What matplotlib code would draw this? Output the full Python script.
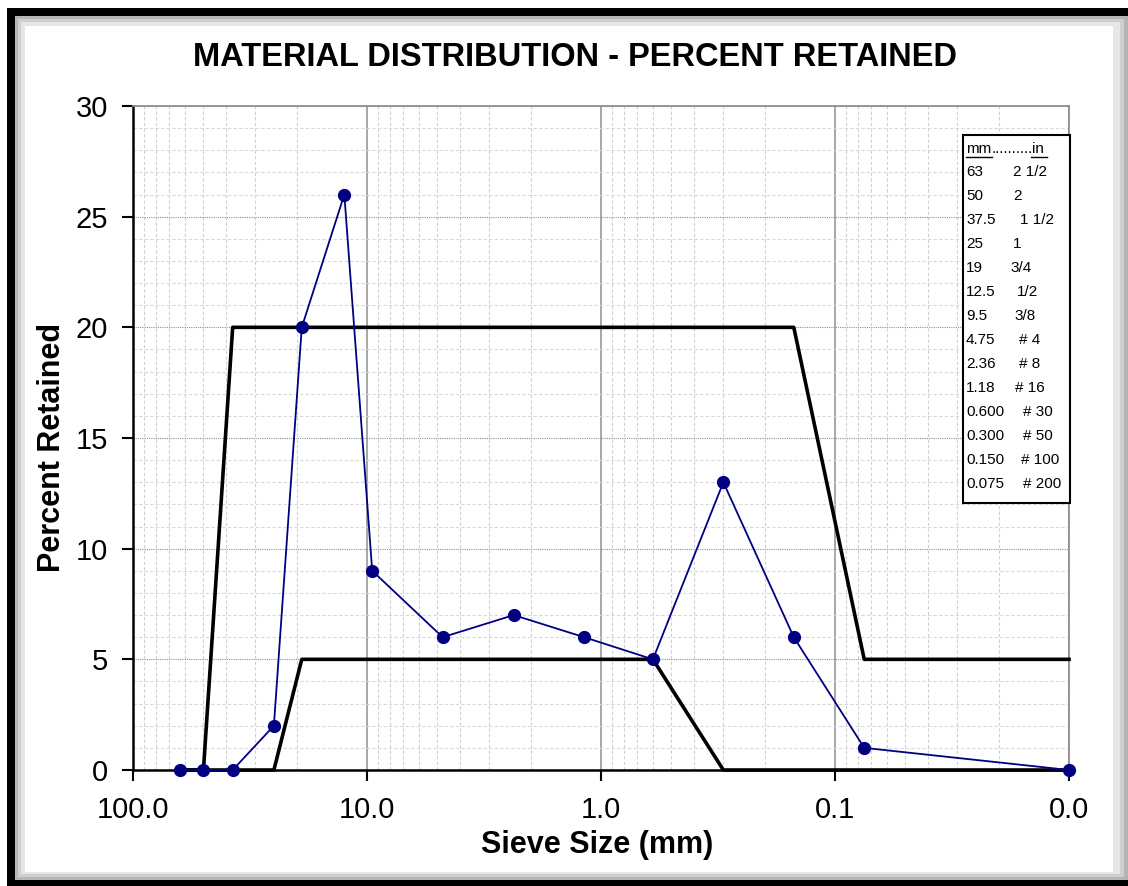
import matplotlib
matplotlib.use("Agg")
import matplotlib.pyplot as plt
from matplotlib.patches import Rectangle
from matplotlib.ticker import FixedLocator, LogLocator, NullFormatter, FuncFormatter

plt.rcParams['font.family'] = ['Liberation Sans', 'DejaVu Sans']

# sieve sizes (mm) and percent retained
sieve_mm = [63, 50, 37.5, 25, 19, 12.5, 9.5, 4.75, 2.36, 1.18, 0.6, 0.3, 0.15, 0.075, 0.01]
retained = [0, 0, 0, 2, 20, 26, 9, 6, 7, 6, 5, 13, 6, 1, 0]

# spec limits
upper_mm = [63, 50, 37.5, 0.15, 0.075, 0.01]
upper_pct = [0, 0, 20, 20, 5, 5]
lower_mm = [63, 25, 19, 0.6, 0.3, 0.01]
lower_pct = [0, 0, 5, 5, 0, 0]

# legend table
leg_mm = ["63", "50", "37.5", "25", "19", "12.5", "9.5", "4.75", "2.36", "1.18",
          "0.600", "0.300", "0.150", "0.075"]
leg_in = ["2 1/2", "2", "1 1/2", "1", "3/4", "1/2", "3/8", "# 4", "# 8", "# 16",
          "# 30", "# 50", "# 100", "# 200"]
leg_x = [1013, 1013, 1020, 1013, 1010, 1017, 1014, 1019, 1019, 1015, 1023, 1023, 1021, 1023]

W, H = 1128, 886
fig = plt.figure(figsize=(W / 100, H / 100), dpi=100)

def px(x, y):
    return x / W, 1 - y / H

# frame around the chart
def frect(x0, y0, x1, y1, color):
    fig.patches.append(Rectangle((x0 / W, 1 - y1 / H), (x1 - x0) / W, (y1 - y0) / H,
                                 transform=fig.transFigure, facecolor=color,
                                 edgecolor='none', zorder=-5))

frect(7, 8, W, H, 'black')
frect(15, 16, W, 880, '#b4b4b4')
frect(18, 19, 1124, 877, '#cfcfcf')
frect(21, 22, 1120, 874, '#e6e6e6')
frect(25, 26, 1113, 872, 'white')

ax = fig.add_axes([133 / W, 1 - 770 / H, (1069 - 133) / W, (770 - 106) / H])
ax.set_xscale('log')
ax.set_xlim(100, 0.01)
ax.set_ylim(0, 30)

ax.xaxis.set_major_locator(FixedLocator([100, 10, 1, 0.1, 0.01]))
ax.xaxis.set_major_formatter(FuncFormatter(lambda v, p: "%.1f" % v))
ax.xaxis.set_minor_locator(LogLocator(base=10, subs=range(2, 10)))
ax.xaxis.set_minor_formatter(NullFormatter())
ax.set_yticks(range(0, 31, 5))
ax.set_yticks(range(0, 31, 1), minor=True)

ax.grid(which='major', axis='x', color='#a0a0a0', lw=1.3, ls='-', zorder=0)
ax.grid(which='minor', axis='x', color='#d0d0d0', lw=0.8, ls=(0, (3, 2)), zorder=0)
ax.grid(which='major', axis='y', color='#909090', lw=0.8, ls=(0, (1, 1)), zorder=0)
ax.grid(which='minor', axis='y', color='#d8d8d8', lw=0.8, ls=(0, (3, 2)), zorder=0)

ax.tick_params(which='major', direction='out', length=8, width=1.5, labelsize=21)
ax.tick_params(which='minor', length=0)
ax.tick_params(axis='y', pad=10)
ax.tick_params(axis='x', pad=11)
for s in ['left', 'bottom']:
    ax.spines[s].set_color('black')
    ax.spines[s].set_linewidth(1.8)
for s in ['top', 'right']:
    ax.spines[s].set_color('#909090')
    ax.spines[s].set_linewidth(1.3)

ax.plot(upper_mm, upper_pct, color='black', lw=2.6, zorder=3, clip_on=False)
ax.plot(lower_mm, lower_pct, color='black', lw=2.6, zorder=3, clip_on=False)
ax.plot(sieve_mm, retained, color='#000080', lw=1.3, marker='o', ms=8.5,
        zorder=4, clip_on=False)

fig.text(*px(575, 57), "MATERIAL DISTRIBUTION - PERCENT RETAINED", fontsize=23.5,
         fontweight='bold', ha='center', va='center')
ax.set_xlabel("Sieve Size (mm)", fontsize=22, fontweight='bold')
ax.set_ylabel("Percent Retained", fontsize=22, fontweight='bold')
ax.xaxis.set_label_coords((597 - 133) / (1069 - 133), -(845 - 770) / (770 - 106))
ax.yaxis.set_label_coords(-(133 - 52) / (1069 - 133), (770 - 447) / (770 - 106))
ax.xaxis.label.set_va('center')
ax.yaxis.label.set_va('center')

# sieve legend box
lx0, ly0, lx1, ly1 = 963, 135, 1070, 503
fig.patches.append(Rectangle((lx0 / W, 1 - ly1 / H), (lx1 - lx0) / W, (ly1 - ly0) / H,
                             transform=fig.transFigure, facecolor='white',
                             edgecolor='black', lw=1.5, zorder=5))
fig.text(*px(966, 149), "mm", fontsize=11, va='center', zorder=6)
fig.text(*px(992, 149), "..........", fontsize=11, va='center', zorder=6)
fig.text(*px(1032, 149), "in", fontsize=11, va='center', zorder=6)
fig.lines.append(plt.Line2D([966 / W, 992 / W], [1 - 157 / H] * 2, color='black',
                            lw=1, transform=fig.transFigure, zorder=6))
fig.lines.append(plt.Line2D([1031 / W, 1047 / W], [1 - 157 / H] * 2, color='black',
                            lw=1, transform=fig.transFigure, zorder=6))
for i, (m, n) in enumerate(zip(leg_mm, leg_in)):
    y = 172 + i * 24
    fig.text(*px(966, y), m, fontsize=11, va='center', zorder=6)
    fig.text(*px(leg_x[i], y), n, fontsize=11, va='center', zorder=6)

fig.savefig("out.png", dpi=100)
